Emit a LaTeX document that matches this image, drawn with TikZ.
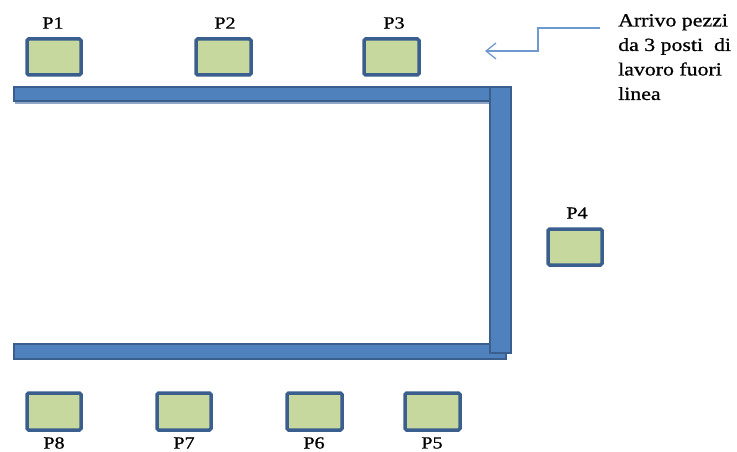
\documentclass[tikz,border=0pt]{standalone}
\usepackage{fontspec}
\setmainfont{Liberation Serif}
\newfontfamily\drawfont[FakeStretch=1.18,FakeBold=0.8]{Liberation Serif}
\usetikzlibrary{arrows.meta}
\definecolor{barfill}{HTML}{4F81BD}
\definecolor{barline}{HTML}{3A5F8E}
\definecolor{barshadow}{HTML}{8FA6C4}
\definecolor{postfill}{HTML}{C6D89E}
\definecolor{arrowcol}{HTML}{6E9AD0}
\tikzset{
  conveyor/.style={draw=barline, fill=barfill, line width=2.5pt},
  post/.style={draw=barline, fill=postfill, line width=3.5pt, rounded corners=1.5pt},
  postlabel/.style={font=\drawfont\fontsize{17}{17}\selectfont, inner sep=0pt},
  note/.style={font=\drawfont\fontsize{18.5}{24.5}\selectfont, align=left, inner sep=0pt, anchor=north west},
  feed/.style={draw=arrowcol, line width=1.3pt, -{Straight Barb[length=10pt,width=16pt,line width=1.3pt]}}
}
\begin{document}
\begin{tikzpicture}[x=1pt,y=-1pt]
\useasboundingbox (0,0) rectangle (737,452);
% conveyor loop
\draw[barshadow, line width=1.5pt] (15,103) -- (490,103);
\draw[conveyor] (14,344) rectangle (506,359);
\draw[conveyor] (14,87) rectangle (500,101);
\draw[conveyor] (490,87) rectangle (511,353);
% workstations, upper row
\draw[post] (27,39) rectangle (81,75);  \node[postlabel] (l1) at (53,23) {P1};
\draw[post] (196,39) rectangle (251,75); \node[postlabel] (l2) at (225,23) {P2};
\draw[post] (364,39) rectangle (419,75); \node[postlabel] (l3) at (394,23) {P3};
% side workstation
\draw[post] (548,229) rectangle (602,265); \node[postlabel] (l4) at (577,213) {P4};
% workstations, lower row
\draw[post] (27,393) rectangle (81,430);  \node[postlabel] (l8) at (54,443) {P8};
\draw[post] (157,393) rectangle (211,430); \node[postlabel] (l7) at (184,443) {P7};
\draw[post] (287,393) rectangle (342,430); \node[postlabel] (l6) at (314,443) {P6};
\draw[post] (405,393) rectangle (460,430); \node[postlabel] (l5) at (432,443) {P5};
% incoming parts note and arrow
\node[note] (nota) at (618,14) {Arrivo pezzi\\da 3 posti\ \ di\\lavoro fuori\\linea};
\coordinate (from) at (600,28);
\coordinate (bend1) at (538,28);
\coordinate (bend2) at (538,51);
\coordinate (tip) at (485,51);
\draw[feed] (from) -- (bend1) -- (bend2) -- (tip);
\end{tikzpicture}
\end{document}
